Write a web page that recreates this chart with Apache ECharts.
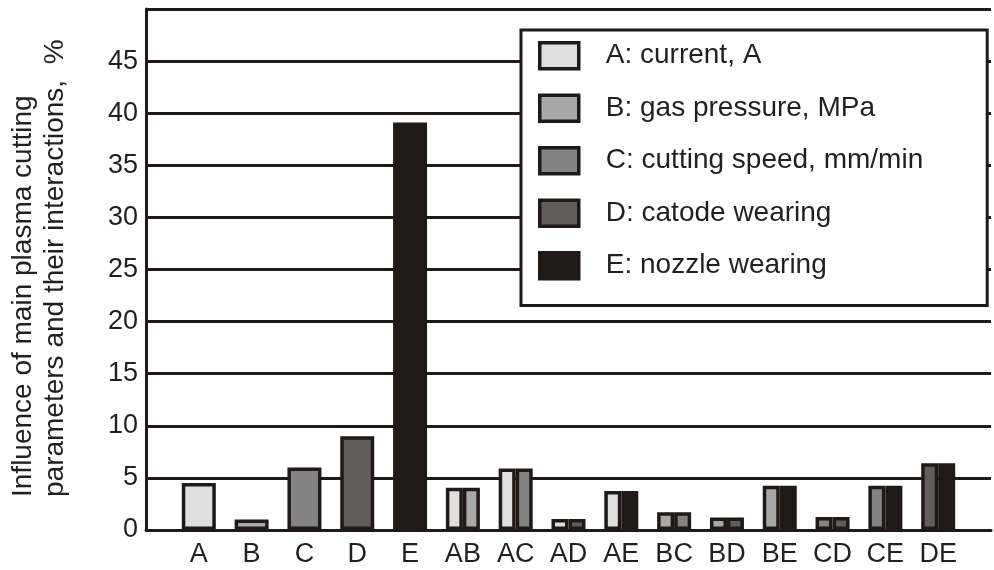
<!DOCTYPE html>
<html>
<head>
<meta charset="utf-8">
<script src="https://cdn.jsdelivr.net/npm/echarts@6/dist/echarts.min.js"></script>
<style>
	html, body { margin: 0; padding: 0; background: #ffffff; }
	#main { width: 994px; height: 570px; }
</style>
</head>
<body>
<div id="main"></div>
<script>
	// factors and their interactions
	var categories = ['A', 'B', 'C', 'D', 'E', 'AB', 'AC', 'AD', 'AE', 'BC', 'BD', 'BE', 'CD', 'CE', 'DE'];
	var values = [4.5, 1.0, 6.0, 9.0, 39.1, 4.05, 5.9, 1.05, 3.75, 1.7, 1.2, 4.25, 1.25, 4.25, 6.4];

	var factorKeys = ['A', 'B', 'C', 'D', 'E'];
	var factorNames = ['A: current, A', 'B: gas pressure, MPa', 'C: cutting speed, mm/min', 'D: catode wearing', 'E: nozzle wearing'];
	var factorColors = ['#dfdfdf', '#a8a8a8', '#838383', '#615d5d', '#1f1a17'];

	var yTicks = [0, 50, 5];

	var ink = '#1f1a17';
	var font = "'Liberation Sans', Arial, sans-serif";

	function colorOf(key) {
		return factorColors[factorKeys.indexOf(key)];
	}

	// blank slot on each side so A starts one step from the axis
	var axisData = [''].concat(categories).concat(['']);

	var singleData = ['-'];
	var leftData = ['-'];
	var rightData = ['-'];
	for (var i = 0; i < categories.length; i++) {
		var c = categories[i];
		if (c.length == 1) {
			singleData.push({ value: values[i], itemStyle: { color: colorOf(c) } });
			leftData.push('-');
			rightData.push('-');
		} else {
			singleData.push('-');
			leftData.push({ value: values[i], itemStyle: { color: colorOf(c.charAt(0)) } });
			rightData.push({ value: values[i], itemStyle: { color: colorOf(c.charAt(1)) } });
		}
	}
	singleData.push('-');
	leftData.push('-');
	rightData.push('-');

	var barBorder = { borderColor: ink, borderWidth: 3.5 };

	var series = [
		{ name: 'single', type: 'bar', xAxisIndex: 1, barWidth: 34, data: singleData, itemStyle: barBorder, silent: true },
		{ name: 'left', type: 'bar', xAxisIndex: 0, barWidth: 17, barGap: 0, data: leftData, itemStyle: barBorder, silent: true },
		{ name: 'right', type: 'bar', xAxisIndex: 0, barWidth: 17, barGap: 0, data: rightData, itemStyle: barBorder, silent: true }
	];
	// legend-only series
	for (var k = 0; k < factorNames.length; k++) {
		series.push({
			name: factorNames[k],
			type: 'bar',
			xAxisIndex: 2,
			data: [],
			itemStyle: { color: factorColors[k], borderColor: ink, borderWidth: 3.5 }
		});
	}

	var option = {
		backgroundColor: '#ffffff',
		animation: false,
		grid: { left: 146, right: -10, top: 9, bottom: 40 },
		legend: {
			orient: 'vertical',
			left: 521,
			top: 30,
			data: factorNames,
			icon: 'rect',
			itemWidth: 39,
			itemHeight: 26,
			itemGap: 23,
			padding: [11, 64, 25, 17],
			backgroundColor: '#ffffff',
			borderColor: ink,
			borderWidth: 3,
			borderRadius: 0,
			selectedMode: false,
			itemStyle: { borderColor: ink, borderWidth: 3.5 },
			textStyle: { fontFamily: font, fontSize: 28, color: '#231f20', lineHeight: 29, padding: [0, 0, 0, 22] }
		},
		xAxis: [{
			type: 'category',
			data: axisData,
			boundaryGap: false,
			axisLine: { lineStyle: { color: ink, width: 3 } },
			axisTick: { show: false },
			axisLabel: { fontFamily: font, fontSize: 27, color: '#231f20', margin: 11, interval: 0 },
			splitLine: { show: false }
		}, {
			type: 'category',
			data: axisData,
			boundaryGap: false,
			show: false
		}, {
			type: 'category',
			data: axisData,
			boundaryGap: false,
			show: false
		}],
		yAxis: {
			type: 'value',
			min: yTicks[0],
			max: yTicks[1],
			interval: yTicks[2],
			axisLine: { show: true, lineStyle: { color: ink, width: 3 } },
			axisTick: { show: false },
			axisLabel: { fontFamily: font, fontSize: 27, color: '#231f20', margin: 8, showMaxLabel: false },
			splitLine: { show: true, lineStyle: { color: ink, width: 3 } }
		},
		graphic: [{
			type: 'text',
			x: 7,
			y: 497,
			rotation: Math.PI / 2,
			silent: true,
			style: {
				text: 'Influence of main plasma cutting\nparameters and their interactions,  %',
				font: '28px ' + font,
				fill: '#231f20',
				lineHeight: 32,
				align: 'left',
				verticalAlign: 'top',
				textAlign: 'left',
				textVerticalAlign: 'top'
			}
		}],
		series: series
	};

	echarts.init(document.getElementById('main')).setOption(option);
</script>
</body>
</html>
